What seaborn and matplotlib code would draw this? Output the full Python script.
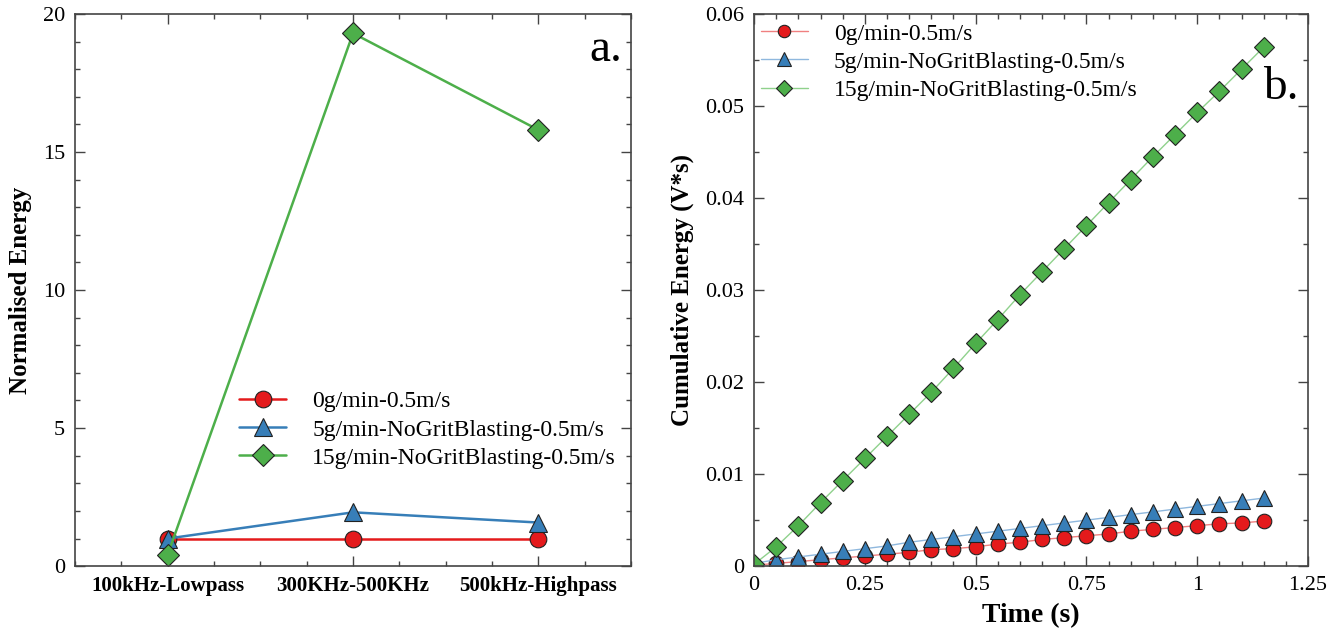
"""
Normalised energy per frequency band and cumulative energy over time.
"""

import matplotlib
matplotlib.use("Agg")
import matplotlib.pyplot as plt
from matplotlib.ticker import MultipleLocator
import seaborn as sns

# ---- data --------------------------------------------------------------
series_names = ["0g/min-0.5m/s",
                "5g/min-NoGritBlasting-0.5m/s",
                "15g/min-NoGritBlasting-0.5m/s"]

bands = ["100kHz-Lowpass", "300KHz-500KHz", "500kHz-Highpass"]
norm_0g = [1.0, 1.0, 1.0]
norm_5g = [1.0, 1.95, 1.58]
norm_15g = [0.42, 19.3, 15.8]

time_s = [0.0, 0.05, 0.10, 0.15, 0.20, 0.25, 0.30, 0.35, 0.40, 0.45, 0.50, 0.55,
          0.60, 0.65, 0.70, 0.75, 0.80, 0.85, 0.90, 0.95, 1.00, 1.05, 1.10, 1.15]
cum_0g = [0.0001, 0.0003, 0.0005, 0.0007, 0.0009, 0.0011, 0.0013, 0.0015,
          0.0018, 0.0019, 0.0021, 0.0024, 0.0026, 0.0029, 0.0031, 0.0033,
          0.0035, 0.0038, 0.0040, 0.0042, 0.0044, 0.0046, 0.0047, 0.0049]
cum_5g = [0.0003, 0.0007, 0.0010, 0.0013, 0.0016, 0.0019, 0.0022, 0.0026,
          0.0029, 0.0032, 0.0035, 0.0038, 0.0041, 0.0044, 0.0047, 0.0050,
          0.0053, 0.0056, 0.0059, 0.0062, 0.0065, 0.0068, 0.0071, 0.0074]
cum_15g = [0.0002, 0.0021, 0.0044, 0.0069, 0.0093, 0.0117, 0.0141, 0.0165,
           0.0189, 0.0215, 0.0242, 0.0268, 0.0295, 0.0320, 0.0345, 0.0370,
           0.0395, 0.0420, 0.0445, 0.0469, 0.0493, 0.0516, 0.0540, 0.0564]

colors = ["#e41a1c", "#377eb8", "#4daf4a"]
line_colors = ["#f08080", "#8fb8de", "#8fd18c"]
markers = ["o", "^", "D"]

# ---- style -------------------------------------------------------------
sns.set_theme(style="ticks")
plt.rcParams["font.family"] = ["Liberation Serif", "DejaVu Serif"]
plt.rcParams["axes.edgecolor"] = "#444444"
plt.rcParams["axes.linewidth"] = 1.2
plt.rcParams["text.color"] = "black"
plt.rcParams["axes.labelcolor"] = "black"


def style_axes(ax):
    ax.tick_params(which="both", direction="in", top=True, right=True,
                   colors="#444444", labelcolor="black", labelsize=16)
    ax.tick_params(which="major", length=7, width=1.0, pad=7)
    ax.tick_params(which="minor", length=3.5, width=1.0)


fig = plt.figure(figsize=(13.28, 6.34), dpi=100)
ax1 = fig.add_axes([0.0565, 0.107, 0.4187, 0.871])
ax2 = fig.add_axes([0.5678, 0.107, 0.4172, 0.871])

# ---- (a) normalised energy ----------------------------------------------
left_sizes = {"o": 12, "^": 13, "D": 11.5}
left_data = [norm_0g, norm_5g, norm_15g]
for name, vals, c, m in zip(series_names, left_data, colors, markers):
    sns.lineplot(x=bands, y=vals, ax=ax1, color=c, marker=m,
                 markersize=left_sizes[m], markeredgecolor="#222222",
                 markeredgewidth=0.8, linewidth=1.8, label=name, sort=False)

ax1.set_xlim(-0.5, 2.5)
ax1.set_ylim(0, 20)
ax1.xaxis.set_minor_locator(MultipleLocator(0.25))
ax1.yaxis.set_major_locator(MultipleLocator(5))
ax1.yaxis.set_minor_locator(MultipleLocator(1))
style_axes(ax1)
for lab in ax1.get_xticklabels():
    lab.set_fontweight("bold")
    lab.set_fontsize(15)
ax1.set_xlabel("")
ax1.set_ylabel("Normalised Energy", fontsize=18, fontweight="bold", labelpad=8)
ax1.legend(loc="center left", bbox_to_anchor=(0.295, 0.247), frameon=False,
           fontsize=17, handlelength=2.0, handletextpad=1.1, labelspacing=0.28,
           borderpad=0, borderaxespad=0)
ax1.text(0.955, 0.935, "a.", transform=ax1.transAxes, fontsize=34,
         ha="center", va="center")

# ---- (b) cumulative energy ----------------------------------------------
right_sizes = {"o": 10.5, "^": 11.5, "D": 10}
right_data = [cum_0g, cum_5g, cum_15g]
for name, vals, c, lc, m in zip(series_names, right_data, colors, line_colors, markers):
    sns.lineplot(x=time_s, y=vals, ax=ax2, color=lc, marker=m,
                 markersize=right_sizes[m], markerfacecolor=c,
                 markeredgecolor="#222222", markeredgewidth=0.8,
                 linewidth=1.0, label=name, sort=False)

ax2.set_xlim(0, 1.25)
ax2.set_ylim(0, 0.06)
ax2.xaxis.set_major_locator(MultipleLocator(0.25))
ax2.xaxis.set_minor_locator(MultipleLocator(0.05))
ax2.yaxis.set_major_locator(MultipleLocator(0.01))
ax2.yaxis.set_minor_locator(MultipleLocator(0.005))
ax2.xaxis.set_major_formatter(lambda v, p: f"{v:g}")
ax2.yaxis.set_major_formatter(lambda v, p: f"{v:g}")
style_axes(ax2)
ax2.set_xlabel("Time (s)", fontsize=20, fontweight="bold", labelpad=6)
ax2.set_ylabel("Cumulative Energy (V*s)", fontsize=18, fontweight="bold", labelpad=8)
ax2.legend(loc="center left", bbox_to_anchor=(0.012, 0.913), frameon=False,
           fontsize=17, handlelength=2.0, handletextpad=1.1,
           labelspacing=0.28, borderpad=0, borderaxespad=0, markerscale=0.85)
ax2.text(0.95, 0.866, "b.", transform=ax2.transAxes, fontsize=34,
         ha="center", va="center")

fig.savefig("out.png", dpi=100)
plt.close(fig)
